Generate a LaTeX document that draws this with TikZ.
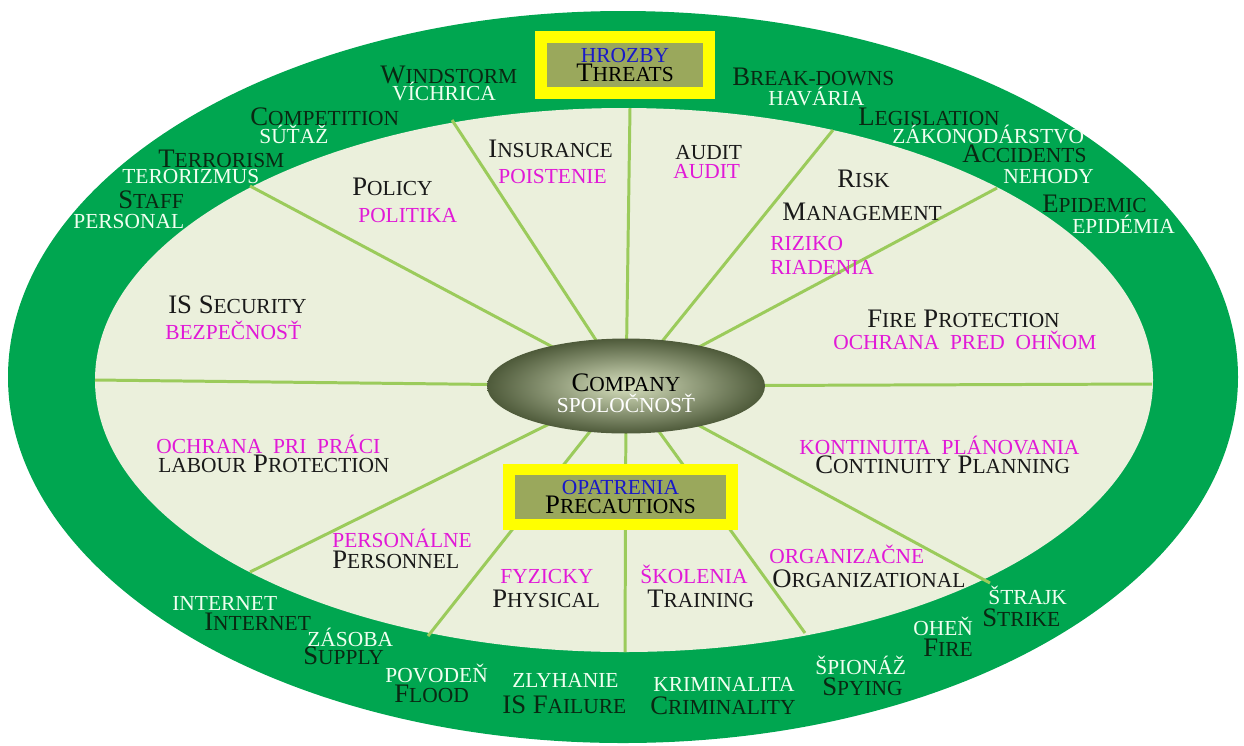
\documentclass[tikz,border=0pt]{standalone}
\usepackage{fontspec}
\setmainfont{Liberation Serif}
\usepackage{tikz}
\usetikzlibrary{shapes.geometric}
\definecolor{ringgreen}{RGB}{0,166,80}
\definecolor{innerfill}{RGB}{235,240,220}
\definecolor{spokegreen}{RGB}{155,203,91}
\definecolor{boxolive}{RGB}{154,168,92}
\definecolor{boxyellow}{RGB}{255,255,0}
\definecolor{threatdark}{RGB}{10,40,18}
\definecolor{threatlight}{RGB}{240,255,240}
\definecolor{measurepink}{RGB}{225,25,215}
\definecolor{titleblue}{RGB}{25,25,200}
\definecolor{hubdark}{RGB}{78,90,58}
\definecolor{hublight}{RGB}{215,224,190}
% small capitals made by hand
\newcommand\sm[1]{{\fontsize{12.2}{10}\selectfont #1}}
\tikzset{
  spoke/.style={draw=spokegreen, line width=1.7pt},
  lbl/.style={anchor=base west, inner sep=0pt, font=\fontsize{15.2}{10.5}\selectfont},
  lblsmall/.style={lbl, font=\fontsize{12.2}{10}\selectfont},
  threat/.style={lbl, text=threatdark},
  threatsk/.style={lblsmall, text=threatlight},
  measure/.style={lbl, text=black!90},
  measuresk/.style={lblsmall, text=measurepink},
  titlebox/.style={draw=boxyellow, fill=boxolive, line width=6.8pt, inner sep=0pt,
    align=center, font=\fontsize{15.2}{10.4}\selectfont}
}

\begin{document}
\begin{tikzpicture}[x=0.02cm, y=-0.02cm]
    \useasboundingbox (0,0) rectangle (1244,745);

    % Outer ring and inner field
    \fill[ringgreen] (623,377) ellipse [x radius=615, y radius=366];
    \fill[innerfill] (624,380) ellipse [x radius=529, y radius=272];

    % Spokes from the hub to the inner edge
    \coordinate (hub) at (626,386);
    \foreach \nm/\x/\y in {w/95/380, e/1152/384, nwa/250/186, nwb/452/120, n/630/108,
        nea/833/130, neb/997/188, swa/250/572, swb/428/636, s/625/652, sea/805/633, seb/990/583} {
        \coordinate (end\nm) at (\x,\y);
        \draw[spoke] (hub) -- (end\nm);
    }

    % Hub
    \node[ellipse, minimum width=5.56cm, minimum height=1.9cm, inner sep=0pt,
        inner color=hublight, outer color=hubdark, align=center,
        font=\fontsize{15.2}{12}\selectfont] (company) at (hub)
        {\rule{0pt}{18pt}\textcolor{black}{C\sm{OMPANY}}\\\textcolor{white}{\sm{SPOLOČNOSŤ}}};

    % Title boxes
    \node[titlebox, minimum width=3.36cm, minimum height=1.12cm] (threats) at (625,65)
        {\textcolor{titleblue}{\sm{HROZBY}}\\T\sm{HREATS}};
    \node[titlebox, minimum width=4.46cm, minimum height=1.1cm] (precautions) at (620.5,497)
        {\textcolor{titleblue}{\sm{OPATRENIA}}\\P\sm{RECAUTIONS}};

    % Threats, English
    \foreach \x/\y/\nm/\txt in {380/83/windstorm/W\sm{INDSTORM}, 250/125/competition/C\sm{OMPETITION},
        158/167/terrorism/T\sm{ERRORISM}, 118/208/staff/S\sm{TAFF}, 732/85/breakdowns/B\sm{REAK-DOWNS},
        858/125/legislation/L\sm{EGISLATION}, 962/162/accidents/A\sm{CCIDENTS},
        1042/212/epidemic/E\sm{PIDEMIC}, 204/630/internet/I\sm{NTERNET}, 303/664/supply/S\sm{UPPLY},
        394/702/flood/F\sm{LOOD}, 502/713/isfailure/IS F\sm{AILURE},
        650/714/criminality/C\sm{RIMINALITY}, 822/695/spying/S\sm{PYING},
        923/656/fire/F\sm{IRE}, 982/626/strike/S\sm{TRIKE}} {
        \node[threat] (\nm) at (\x,\y) {\txt};
    }

    % Threats, Slovak
    \foreach \x/\y/\nm/\txt in {392/100/vichrica/VÍCHRICA, 259/143/sutaz/SÚŤAŽ,
        122/183/terorizmus/TERORIZMUS, 73/228/personal/PERSONAL, 768/105/havaria/HAVÁRIA,
        892/143/zakonodarstvo/ZÁKONODÁRSTVO, 1003/183/nehody/NEHODY, 1072/233/epidemia/EPIDÉMIA,
        172/610/internetsk/INTERNET, 307/646/zasoba/ZÁSOBA, 385/682/povoden/POVODEŇ,
        512/687/zlyhanie/ZLYHANIE, 653/691/kriminalita/KRIMINALITA, 815/674/spionaz/ŠPIONÁŽ,
        913/635/ohen/OHEŇ, 988/604/strajk/ŠTRAJK} {
        \node[threatsk] (\nm) at (\x,\y) {\txt};
    }

    % Precautions, English
    \foreach \x/\y/\nm/\txt in {352/195/policy/P\sm{OLICY}, 488/157/insurance/I\sm{NSURANCE},
        675/159/audit/\sm{AUDIT}, 837/187/risk/R\sm{ISK}, 782/220/management/M\sm{ANAGEMENT},
        168/313/security/IS S\sm{ECURITY}, 158/472/labour/\sm{LABOUR} P\sm{ROTECTION},
        867/327/fireprot/F\sm{IRE} P\sm{ROTECTION},
        815/473/continuity/C\sm{ONTINUITY} P\sm{LANNING},
        332/568/personnel/P\sm{ERSONNEL}, 492/607/physical/P\sm{HYSICAL},
        647/607/training/T\sm{RAINING}, 772/587/organizational/O\sm{RGANIZATIONAL}} {
        \node[measure] (\nm) at (\x,\y) {\txt};
    }

    % Precautions, Slovak
    \foreach \x/\y/\nm/\txt in {358/222/politika/POLITIKA, 498/183/poistenie/POISTENIE,
        673/178/auditsk/AUDIT, 770/250/riziko/RIZIKO, 770/274/riadenia/RIADENIA,
        165/339/bezpecnost/BEZPEČNOSŤ, 156/453/ochranaprace/OCHRANA\ \ PRI\ \ PRÁCI,
        833/349/ochranaohen/OCHRANA\ \ PRED\ \ OHŇOM, 799/454/kontinuita/KONTINUITA\ \ PLÁNOVANIA,
        332/547/personalne/PERSONÁLNE, 500/583/fyzicky/FYZICKY, 640/583/skolenia/ŠKOLENIA,
        769/563/organizacne/ORGANIZAČNE} {
        \node[measuresk] (\nm) at (\x,\y) {\txt};
    }
\end{tikzpicture}
\end{document}
